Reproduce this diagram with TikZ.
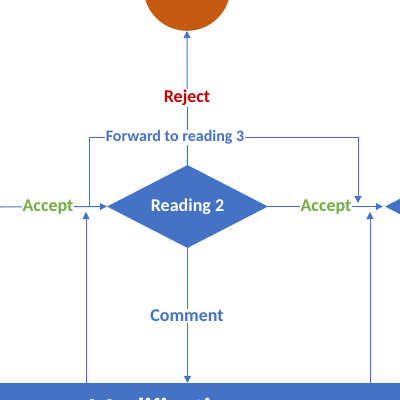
\documentclass[tikz,border=0pt]{standalone}
\usepackage{fontspec}
\setmainfont{Carlito}
\usetikzlibrary{shapes.geometric,arrows.meta}
\definecolor{blu}{HTML}{4472C4}
\definecolor{org}{HTML}{C55A11}
\definecolor{grn}{HTML}{70AD47}
\definecolor{rd}{HTML}{C00000}
\tikzset{
  conn/.style={draw=blu, line width=1pt},
  arr/.style={conn, -{Triangle[length=7pt,width=7pt]}},
  decide/.style={diamond, fill=blu, draw=none, minimum width=161pt, minimum height=83pt, aspect=1.93, inner sep=0pt, text=white, font=\fontsize{18}{20}\selectfont\bfseries},
  lbl/.style={fill=white, inner sep=1pt, font=\fontsize{18}{20}\selectfont\bfseries},
}
\begin{document}
\begin{tikzpicture}[x=1pt,y=-1pt]
\useasboundingbox (0,0) rectangle (400,400);
\clip (0,0) rectangle (400,400);
% nodes
\node[circle, fill=org, minimum size=87pt, inner sep=0pt] (rej) at (187,-12.7) {};
\node[decide] (r2) at (187.5,206.5) {Reading 2};
\node[decide] (r3) at (465.5,206.5) {};
\node[rectangle, fill=blu, anchor=base, minimum width=480pt, text height=35pt, text depth=12pt, inner ysep=0pt, text=white, font=\fontsize{29}{32}\selectfont\bfseries] (mod) at (165,418) {Modification};
% coordinates
\coordinate (lin) at (0,207);
\coordinate (fl) at (89,207);
\coordinate (fc1) at (89,137);
\coordinate (fc2) at (358,137);
\coordinate (fe) at (358,203);
\coordinate (ul) at (86,212);
\coordinate (ur) at (370,212);
% connectors
\draw[arr] (r2.north) -- (rej.south);
\draw[arr] (lin) -- (r2.west);
\draw[arr, shorten >=2pt] (r2.east) -- (r3.west);
\draw[arr] (fl) -- (fc1) -- (fc2) -- (fe);
\draw[arr] (ul |- mod.north) -- (ul);
\draw[arr] (ur |- mod.north) -- (ur);
\draw[arr] (r2.south) -- (r2.south |- mod.north);
% labels
\node[lbl, text=rd] (lrej) at (187,98) {Reject};
\node[lbl, text=blu, font=\fontsize{16}{18}\selectfont\bfseries] (lfw) at (175,137.5) {Forward to reading 3};
\node[lbl, text=grn] (lacc1) at (48,207) {Accept};
\node[lbl, text=grn] (lacc2) at (326,207) {Accept};
\node[lbl, text=blu] (lcom) at (187,316) {Comment};
\end{tikzpicture}
\end{document}
